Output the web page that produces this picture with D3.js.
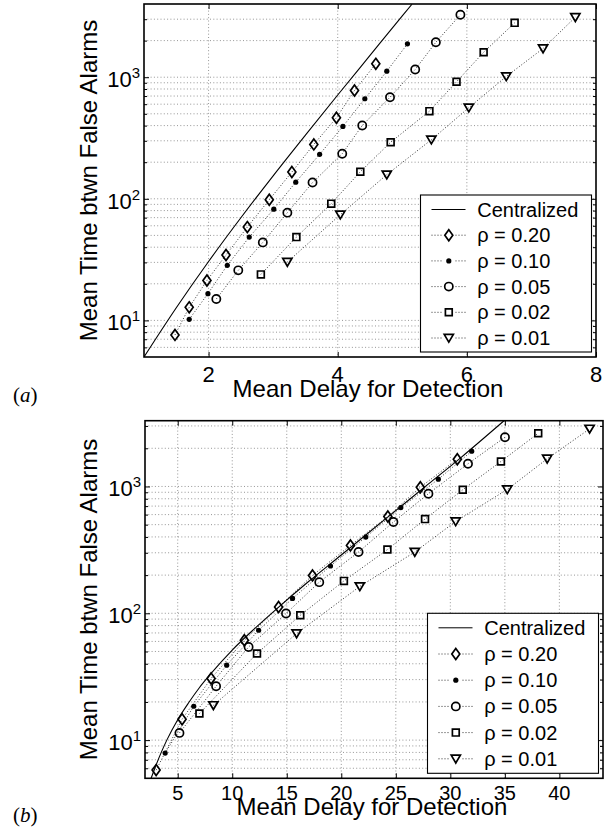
<!DOCTYPE html>
<html>
<head>
<meta charset="utf-8">
<script src="https://cdn.jsdelivr.net/npm/d3@7"></script>
<style>
  body { margin: 0; background: #fff; }
  svg { display: block; font-family: 'Liberation Sans', Arial, Helvetica, sans-serif; }
</style>
</head>
<body>
<div id="app"></div>
<script>
const width = 613;
const height = 836;

const legendLabels = ['Centralized', 'ρ = 0.20', 'ρ = 0.10', 'ρ = 0.05', 'ρ = 0.02', 'ρ = 0.01'];
const markerTypes = ['diamond', 'dot', 'circle', 'square', 'triangle'];
const yMajorTicks = [10, 100, 1000];

// panel (a)
const aXTicks = [2, 4, 6, 8];
const aCentralX = [1.0, 1.5, 2.0, 2.5, 3.0, 3.5, 4.0, 4.5, 5.0, 5.15];
const aCentralY = [5.0, 12.7, 30.5, 69.8, 154.5, 334, 714, 1510, 3190, 3980];
const aRho20X = [1.48, 1.70, 1.975, 2.27, 2.60, 2.94, 3.29, 3.63, 3.98, 4.26, 4.59];
const aRho20Y = [7.6, 12.8, 21.3, 34.5, 58.5, 98.3, 166, 280, 464, 778, 1288];
const aRho10X = [1.70, 1.99, 2.29, 2.63, 3.01, 3.35, 3.72, 4.08, 4.42, 4.76, 5.08];
const aRho10Y = [10.2, 16.6, 28.4, 48.4, 82.2, 137, 232, 394, 665, 1120, 1880];
const aRho05X = [2.12, 2.46, 2.84, 3.22, 3.61, 4.07, 4.38, 4.81, 5.20, 5.52, 5.90];
const aRho05Y = [15.0, 25.8, 43.8, 76.9, 136, 235, 401, 685, 1157, 1940, 3260];
const aRho02X = [2.81, 3.36, 3.90, 4.35, 4.82, 5.42, 5.84, 6.26, 6.74];
const aRho02Y = [23.9, 48.4, 91.2, 167, 292, 526, 917, 1604, 2800];
const aRho01X = [3.22, 4.04, 4.76, 5.45, 6.03, 6.61, 7.18, 7.68];
const aRho01Y = [30.2, 74.0, 158, 306, 561, 1014, 1722, 3112];

// panel (b)
const bXTicks = [5, 10, 15, 20, 25, 30, 35, 40];
const bCentralX = [2.56, 3.0, 3.5, 4, 5, 6, 7, 8, 10, 12, 14, 17, 20, 24, 28, 31, 34.92];
const bCentralY = [5.0, 6.31, 8.04, 10, 14.5, 19.7, 26.0, 33.1, 51.3, 75.0, 107, 178, 288, 550, 1047, 1698, 3296];
const bRho20X = [3.02, 5.40, 8.06, 11.11, 14.25, 17.36, 20.84, 24.27, 27.25, 30.64];
const bRho20Y = [5.8, 14.6, 30.6, 61.3, 112, 199, 343, 580, 987, 1641];
const bRho10X = [3.85, 6.47, 9.49, 12.42, 15.53, 19.01, 22.25, 25.46, 28.90, 31.96];
const bRho10Y = [7.9, 18.5, 39.0, 73.5, 131, 236, 399, 680, 1141, 1897];
const bRho05X = [5.16, 8.52, 11.50, 14.93, 17.98, 21.58, 24.78, 27.99, 31.62, 35.01];
const bRho05Y = [11.4, 26.6, 54.3, 99.5, 176, 304, 524, 877, 1510, 2444];
const bRho02X = [6.99, 12.27, 16.24, 20.24, 24.23, 27.68, 31.14, 34.64, 38.06];
const bRho02Y = [16.2, 48.2, 96.4, 180, 318, 553, 942, 1574, 2628];
const bRho01X = [8.27, 15.90, 21.70, 26.74, 30.49, 35.22, 38.88, 42.77];
const bRho01Y = [18.8, 69.2, 163, 304, 530, 947, 1652, 2846];

const zip = (xs, ys) => xs.map((v, i) => [v, ys[i]]);

const panels = [
  {
    id: 'a', tag: 'a',
    left: 144, top: 4, right: 596, bottom: 357,
    xDomain: [1, 8], yDomain: [5, 4000], xTicks: aXTicks,
    tickFont: 22, tickBaseline: 25, titleBaseline: 40, tagBaseline: 402,
    legendH: 157, rowGap: 25.7,
    central: zip(aCentralX, aCentralY),
    series: [zip(aRho20X, aRho20Y), zip(aRho10X, aRho10Y), zip(aRho05X, aRho05Y),
             zip(aRho02X, aRho02Y), zip(aRho01X, aRho01Y)]
  },
  {
    id: 'b', tag: 'b',
    left: 145, top: 420.7, right: 603, bottom: 778.3,
    xDomain: [2, 44], yDomain: [5, 3300], xTicks: bXTicks,
    tickFont: 20, tickBaseline: 22, titleBaseline: 37, tagBaseline: 822,
    legendH: 160, rowGap: 26.2,
    central: zip(bCentralX, bCentralY),
    series: [zip(bRho20X, bRho20Y), zip(bRho10X, bRho10Y), zip(bRho05X, bRho05Y),
             zip(bRho02X, bRho02Y), zip(bRho01X, bRho01Y)]
  }
];

const shapePaths = {
  diamond: 'M0,-5.5L4,0L0,5.5L-4,0Z',
  square: 'M-3.4,-3.4H3.4V3.4H-3.4Z',
  triangle: 'M-4.6,-3.6H4.6L0,4.2Z'
};

const addMarker = (sel, type) => {
  if (type === 'dot') {
    sel.append('circle').attr('r', 2.6).attr('fill', '#000');
  } else if (type === 'circle') {
    sel.append('circle').attr('r', 4.1)
      .attr('fill', 'none').attr('stroke', '#000').attr('stroke-width', 1.7);
  } else {
    sel.append('path').attr('d', shapePaths[type])
      .attr('fill', 'none').attr('stroke', '#000').attr('stroke-width', 1.7)
      .attr('stroke-linejoin', 'miter');
  }
};

const svg = d3.select('#app').append('svg')
  .attr('width', width)
  .attr('height', height);

const drawPanel = p => {
  const x = d3.scaleLinear().domain(p.xDomain).range([p.left, p.right]);
  const y = d3.scaleLog().domain(p.yDomain).range([p.bottom, p.top]);
  const w = p.right - p.left;
  const h = p.bottom - p.top;
  const g = svg.append('g');

  g.append('clipPath').attr('id', `clip-${p.id}`)
    .append('rect')
    .attr('x', p.left).attr('y', p.top)
    .attr('width', w).attr('height', h);

  const yAll = y.ticks().filter(v => v > p.yDomain[0] && v < p.yDomain[1]);
  const yMinor = yAll.filter(v => !yMajorTicks.includes(v));
  const xInner = p.xTicks.filter(v => v > p.xDomain[0] && v < p.xDomain[1]);

  // grid
  const grid = g.append('g').attr('stroke', '#8a8a8a').attr('stroke-width', 0.9)
    .attr('stroke-dasharray', '1,2.3');
  grid.selectAll('.gx').data(xInner).enter().append('line')
    .attr('x1', d => x(d)).attr('x2', d => x(d))
    .attr('y1', p.top).attr('y2', p.bottom);
  grid.selectAll('.gy').data(yAll).enter().append('line')
    .attr('x1', p.left).attr('x2', p.right)
    .attr('y1', d => y(d)).attr('y2', d => y(d));

  // ticks, pointing inward on all four sides
  const tickAxis = (axis, tr, vals, size) => {
    const a = g.append('g').attr('transform', tr)
      .call(axis.tickValues(vals).tickSizeInner(-size).tickSizeOuter(0).tickFormat(''));
    a.select('.domain').remove();
    a.selectAll('line').attr('stroke', '#000').attr('stroke-width', 1);
  };
  tickAxis(d3.axisBottom(x), `translate(0,${p.bottom})`, p.xTicks, 5);
  tickAxis(d3.axisTop(x), `translate(0,${p.top})`, p.xTicks, 5);
  tickAxis(d3.axisLeft(y), `translate(${p.left},0)`, yMajorTicks, 5);
  tickAxis(d3.axisRight(y), `translate(${p.right},0)`, yMajorTicks, 5);
  tickAxis(d3.axisLeft(y), `translate(${p.left},0)`, yMinor, 3);
  tickAxis(d3.axisRight(y), `translate(${p.right},0)`, yMinor, 3);

  // data
  const plot = g.append('g').attr('clip-path', `url(#clip-${p.id})`);
  const line = d3.line().x(d => x(d[0])).y(d => y(d[1]));

  p.series.forEach(s => {
    plot.append('path').datum(s)
      .attr('d', line)
      .attr('fill', 'none')
      .attr('stroke', '#333')
      .attr('stroke-width', 1)
      .attr('stroke-dasharray', '1,2');
  });

  plot.append('path').datum(p.central)
    .attr('d', line.curve(d3.curveMonotoneX))
    .attr('fill', 'none')
    .attr('stroke', '#000')
    .attr('stroke-width', 1.1);

  p.series.forEach((s, i) => {
    plot.selectAll(null).data(s).enter().append('g')
      .attr('transform', d => `translate(${x(d[0])},${y(d[1])})`)
      .each(function () { addMarker(d3.select(this), markerTypes[i]); });
  });

  // box
  g.append('rect')
    .attr('x', p.left).attr('y', p.top)
    .attr('width', w).attr('height', h)
    .attr('fill', 'none').attr('stroke', '#000').attr('stroke-width', 1.6);

  // tick labels
  g.selectAll('.xl').data(p.xTicks).enter().append('text')
    .attr('x', d => x(d)).attr('y', p.bottom + p.tickBaseline)
    .attr('text-anchor', 'middle')
    .attr('font-size', p.tickFont)
    .text(d => d);

  const yl = g.selectAll('.yl').data(yMajorTicks).enter().append('text')
    .attr('x', p.left - 4).attr('y', d => y(d) + 10)
    .attr('text-anchor', 'end')
    .attr('font-size', 22);
  yl.append('tspan').text('10');
  yl.append('tspan').attr('dy', -9).attr('font-size', 15).text(d => Math.round(Math.log10(d)));

  // axis titles
  g.append('text')
    .attr('x', (p.left + p.right) / 2 - 2)
    .attr('y', p.bottom + p.titleBaseline)
    .attr('text-anchor', 'middle')
    .attr('font-size', 24)
    .text('Mean Delay for Detection');

  g.append('text')
    .attr('transform', `translate(97,${(p.top + p.bottom) / 2}) rotate(-90)`)
    .attr('text-anchor', 'middle')
    .attr('font-size', 24)
    .text('Mean Time btwn False Alarms');

  // panel tag
  const tag = g.append('text')
    .attr('x', 13).attr('y', p.tagBaseline)
    .attr('font-family', "'Liberation Serif', 'DejaVu Serif', serif")
    .attr('font-size', 21);
  tag.append('tspan').text('(');
  tag.append('tspan').attr('font-style', 'italic').text(p.tag);
  tag.append('tspan').text(')');

  // legend
  const lw = 171;
  const legend = g.append('g')
    .attr('transform', `translate(${p.right - 4.5 - lw},${p.bottom - 5 - p.legendH})`);
  legend.append('rect')
    .attr('width', lw).attr('height', p.legendH)
    .attr('fill', '#fff').attr('stroke', '#000').attr('stroke-width', 1.1);

  legendLabels.forEach((label, i) => {
    const ry = 14.5 + i * p.rowGap;
    const row = legend.append('g').attr('transform', `translate(0,${ry})`);
    row.append('line')
      .attr('x1', 11).attr('x2', 45)
      .attr('stroke', i === 0 ? '#000' : '#333')
      .attr('stroke-width', 1)
      .attr('stroke-dasharray', i === 0 ? null : '1,2');
    if (i > 0) {
      const m = row.append('g').attr('transform', 'translate(28.3,0)');
      m.append('rect').attr('x', -6).attr('y', -6).attr('width', 12).attr('height', 12).attr('fill', '#fff');
      addMarker(m, markerTypes[i - 1]);
    }
    row.append('text')
      .attr('x', 56.7).attr('y', 7)
      .attr('font-size', 20)
      .text(label);
  });
};

panels.forEach(drawPanel);
</script>
</body>
</html>
